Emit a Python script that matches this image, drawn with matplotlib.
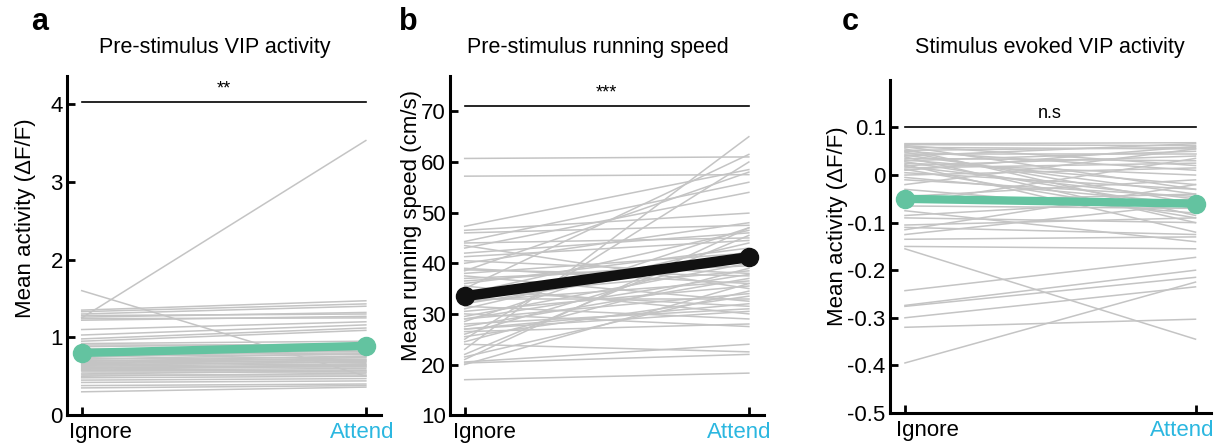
import matplotlib
matplotlib.use('Agg')
import matplotlib.pyplot as plt

plt.rcParams['font.family'] = ['Liberation Sans', 'DejaVu Sans']

# 조건 이름
conditions = ['Ignore', 'Attend']

# a: 자극 전 VIP 활동 (개별 세포)
ignore_a = [1.60, 1.25, 1.35, 1.33, 1.30, 1.28, 1.26, 1.24, 1.22, 1.10, 1.03, 0.98,
            0.95, 0.92, 0.90, 0.88, 0.85, 0.82, 0.80, 0.78, 0.76, 0.74, 0.72, 0.70,
            0.68, 0.67, 0.65, 0.63, 0.62, 0.60, 0.58, 0.57, 0.55, 0.53, 0.52, 0.50,
            0.48, 0.45, 0.42, 0.38, 0.35, 0.30, 0.72, 0.66, 0.61, 0.59, 0.64, 0.69]
attend_a = [0.50, 3.53, 1.47, 1.43, 1.40, 1.30, 1.32, 1.25, 1.27, 1.20, 1.16, 1.12,
            1.09, 0.95, 0.90, 0.92, 0.85, 0.88, 0.82, 0.80, 0.78, 0.84, 0.75, 0.72,
            0.70, 0.74, 0.68, 0.66, 0.62, 0.65, 0.60, 0.58, 0.55, 0.57, 0.52, 0.54,
            0.50, 0.47, 0.44, 0.40, 0.38, 0.36, 0.79, 0.71, 0.64, 0.63, 0.69, 0.76]
mean_a = [0.80, 0.89]

# b: 자극 전 달리기 속도
ignore_b = [60.7, 57.2, 47.3, 46.5, 46.0, 44.3, 44.0, 43.5, 43.0, 42.0, 41.3, 40.5,
            40.0, 39.0, 38.7, 38.5, 38.0, 37.5, 37.0, 36.0, 35.5, 35.0, 34.0, 33.5,
            33.0, 32.5, 32.0, 31.5, 31.0, 30.5, 30.0, 29.5, 29.0, 28.5, 28.0, 27.5,
            27.0, 26.5, 26.0, 25.5, 25.0, 24.5, 24.0, 23.0, 22.0, 21.0, 20.5, 20.3,
            20.0, 17.0, 21.5, 27.0, 29.0, 34.5, 36.5]
attend_b = [61.0, 57.5, 58.5, 49.9, 47.5, 56.0, 45.0, 35.0, 54.0, 46.0, 44.5, 38.0,
            48.0, 36.0, 37.5, 58.0, 42.0, 32.5, 39.5, 43.0, 30.0, 61.5, 46.5, 38.5,
            33.0, 36.5, 41.0, 29.0, 44.0, 35.5, 27.5, 40.0, 34.0, 47.0, 31.0, 37.0,
            30.5, 28.0, 42.5, 33.5, 60.0, 39.0, 22.5, 65.0, 45.5, 47.0, 24.0, 22.0,
            36.0, 18.3, 34.5, 32.0, 37.8, 31.5, 40.5]
mean_b = [33.5, 41.2]

# c: 자극 유발 VIP 활동
ignore_c = [0.066, 0.064, 0.062, 0.060, 0.058, 0.055, 0.052, 0.050, 0.048, 0.045,
            0.042, 0.040, 0.038, 0.035, 0.032, 0.030, 0.028, 0.025, 0.022, 0.020,
            0.018, 0.015, 0.012, 0.010, 0.005, 0.000, -0.005, -0.010, -0.020, -0.030,
            -0.045, -0.055, -0.060, -0.065, -0.075, -0.085, -0.090, -0.105, -0.110,
            -0.115, -0.125, -0.135, -0.150, -0.155, -0.243, -0.274, -0.276, -0.300,
            -0.320, -0.395]
attend_c = [0.068, 0.062, 0.020, -0.030, 0.055, -0.085, 0.058, 0.010, -0.060, 0.045,
            -0.040, 0.066, -0.100, 0.030, -0.020, 0.050, -0.070, 0.000, -0.120, 0.040,
            -0.050, 0.025, -0.090, 0.060, -0.030, 0.015, -0.060, -0.045, 0.055, -0.080,
            -0.010, -0.040, 0.035, -0.070, -0.140, -0.050, -0.100, -0.090, -0.125,
            -0.020, -0.060, -0.130, -0.155, -0.345, -0.173, -0.200, -0.215, -0.235,
            -0.303, -0.225]
mean_c = [-0.05, -0.06]

green = '#63c3a0'
cyan = '#2bb7e0'
gray = '#c4c4c4'

fig = plt.figure(figsize=(12.24, 4.44), dpi=100)

panels = [
    dict(rect=[0.0547, 0.065, 0.2565, 0.764], ig=ignore_a, at=attend_a, mean=mean_a,
         color=green, mlw=6, ms=13, ylim=(0, 4.36), yticks=[0, 1, 2, 3, 4],
         ytl=['0', '1', '2', '3', '4'], sig=4.02, star='**',
         ylabel='Mean activity (ΔF/F)', lab_xy=(-0.10, 0.58),
         title='Pre-stimulus VIP activity', title_x=215, letter='a', letter_x=40,
         xlab_pos=[0.067, 0.986]),
    dict(rect=[0.3676, 0.065, 0.2565, 0.764], ig=ignore_b, at=attend_b, mean=mean_b,
         color='#111111', mlw=7.5, ms=13, ylim=(10, 77), yticks=[10, 20, 30, 40, 50, 60, 70],
         ytl=['10', '20', '30', '40', '50', '60', '70'], sig=71, star='***',
         ylabel='Mean running speed (cm/s)', lab_xy=(-0.09, 0.56),
         title='Pre-stimulus running speed', title_x=598, letter='b', letter_x=408,
         xlab_pos=[0.07, 0.965]),
    dict(rect=[0.727, 0.070, 0.2623, 0.750], ig=ignore_c, at=attend_c, mean=mean_c,
         color=green, mlw=6, ms=13, ylim=(-0.5, 0.2),
         yticks=[-0.5, -0.4, -0.3, -0.2, -0.1, 0, 0.1],
         ytl=['-0.5', '-0.4', '-0.3', '-0.2', '-0.1', '0', '0.1'], sig=0.1, star='n.s',
         ylabel='Mean activity (ΔF/F)', lab_xy=(-0.13, 0.56),
         title='Stimulus evoked VIP activity', title_x=1050, letter='c', letter_x=850,
         xlab_pos=[0.076, 0.955]),
]

for p in panels:
    ax = fig.add_axes(p['rect'])
    for y0, y1 in zip(p['ig'], p['at']):
        ax.plot([0, 1], [y0, y1], color=gray, lw=1.1, zorder=1)
    ax.plot([0, 1], p['mean'], color=p['color'], lw=p['mlw'], marker='o',
            markersize=p['ms'], solid_capstyle='round', zorder=3)

    # 유의성 표시
    ax.plot([0, 1], [p['sig'], p['sig']], color='black', lw=1.2, zorder=2)
    span = p['ylim'][1] - p['ylim'][0]
    ax.text(0.5, p['sig'] + span * 0.015, p['star'], ha='center', va='bottom',
            fontsize=13)

    ax.set_xlim(-0.052, 1.053)
    ax.set_ylim(*p['ylim'])
    ax.set_yticks(p['yticks'])
    ax.set_yticklabels(p['ytl'])
    ax.set_xticks([0, 1])
    ax.set_xticklabels([])

    # x축 라벨 (Ignore / Attend)
    for name, xpos, col in zip(conditions, p['xlab_pos'], ['black', cyan]):
        ax.annotate(name, xy=(xpos, 0), xycoords=('data', 'axes fraction'),
                    xytext=(0, -5), textcoords='offset points', ha='center', va='top',
                    fontsize=16, color=col)

    ax.tick_params(direction='in', length=6, width=2, labelsize=16, pad=3)
    for s in ['top', 'right']:
        ax.spines[s].set_visible(False)
    for s in ['left', 'bottom']:
        ax.spines[s].set_linewidth(2.2)

    ax.set_ylabel(p['ylabel'], fontsize=16)
    ax.yaxis.set_label_coords(*p['lab_xy'])

    fig.text(p['title_x'] / 1224, 1 - 47 / 444, p['title'], ha='center', va='center', fontsize=15.5)
    fig.text(p['letter_x'] / 1224, 1 - 22 / 444, p['letter'], ha='center', va='center',
             fontsize=22, fontweight='bold')

plt.savefig('out.png', dpi=100)
